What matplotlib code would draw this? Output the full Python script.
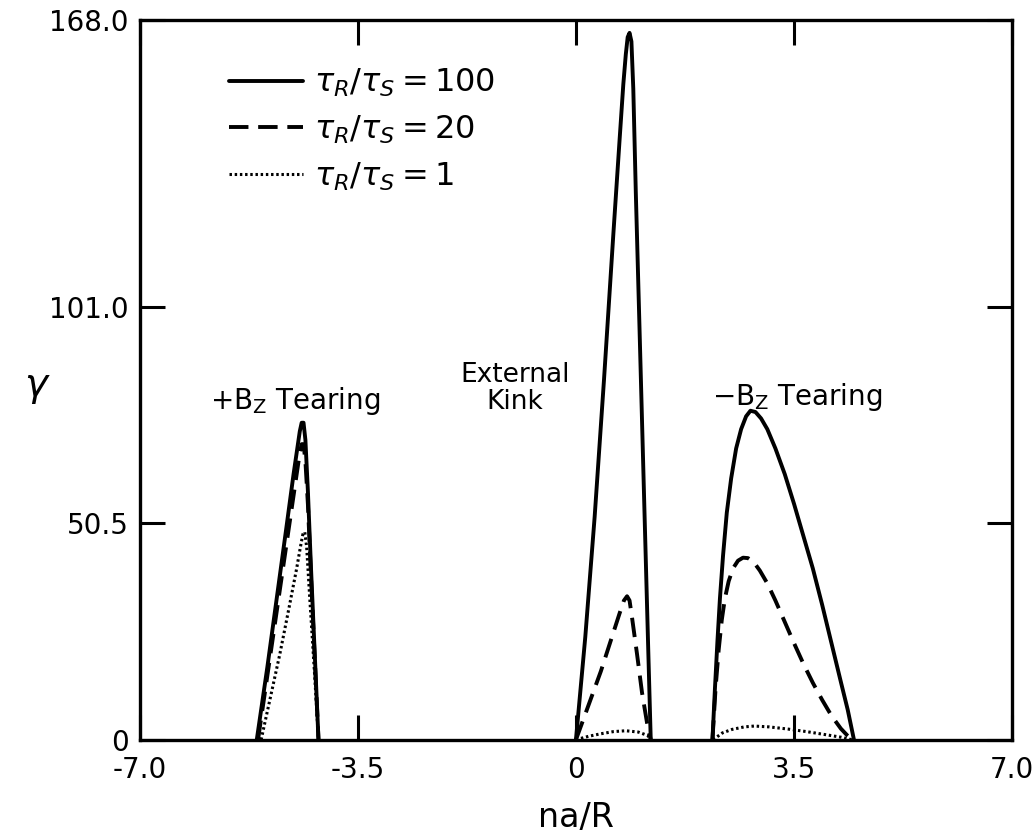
import numpy as np
import matplotlib.pyplot as plt

# +Bz tearing branch
pos_x_100 = [-5.12, -4.95, -4.8, -4.65, -4.53, -4.47, -4.43, -4.40, -4.37, -4.34, -4.30, -4.25, -4.19, -4.13]
pos_y_100 = [0, 17, 33, 49, 62, 68, 72, 74, 74, 70, 58, 40, 20, 0]
pos_x_20 = [-5.10, -4.95, -4.8, -4.65, -4.53, -4.47, -4.43, -4.40, -4.37, -4.34, -4.30, -4.25, -4.19, -4.13]
pos_y_20 = [0, 15, 30, 45, 57, 63, 67, 69, 69, 65, 55, 38, 19, 0]
pos_x_1 = [-5.05, -4.9, -4.75, -4.6, -4.48, -4.42, -4.38, -4.35, -4.32, -4.27, -4.20, -4.13]
pos_y_1 = [0, 10, 20, 31, 40, 45, 48, 48.5, 45, 33, 17, 0]

# external kink
kink_x_100 = [0.0, 0.15, 0.3, 0.45, 0.6, 0.7, 0.76, 0.8, 0.83, 0.86, 0.89, 0.92, 0.96, 1.02, 1.1, 1.16, 1.2]
kink_y_100 = [0, 24, 52, 84, 118, 140, 153, 160, 164, 165, 163, 152, 128, 96, 53, 21, 0]
kink_x_20 = [0.0, 0.2, 0.4, 0.6, 0.7, 0.77, 0.82, 0.86, 0.9, 0.98, 1.06, 1.14, 1.2]
kink_y_20 = [0, 8, 16, 25, 29.5, 32.5, 33.5, 32.5, 28.5, 20, 11, 4, 0]
kink_x_1 = [0.0, 0.2, 0.4, 0.6, 0.8, 1.0, 1.15, 1.2]
kink_y_1 = [0, 0.8, 1.4, 1.9, 2.1, 1.8, 1.0, 0]

# -Bz tearing branch
neg_x_100 = [2.19, 2.23, 2.27, 2.31, 2.36, 2.42, 2.49, 2.57, 2.65, 2.73, 2.8, 2.88, 2.97, 3.07,
             3.2, 3.35, 3.5, 3.65, 3.8, 3.95, 4.1, 4.25, 4.36, 4.46]
neg_y_100 = [0, 12, 23, 33, 43, 53, 61, 68, 72.5, 75.5, 76.8, 76.5, 75, 72.5,
             68, 62, 55, 47.5, 40, 31.5, 22.5, 13.5, 7, 0]
neg_x_20 = [2.19, 2.24, 2.29, 2.34, 2.39, 2.45, 2.52, 2.6, 2.68, 2.76, 2.85, 2.95, 3.07, 3.2,
            3.35, 3.5, 3.65, 3.8, 3.95, 4.1, 4.25, 4.36, 4.43]
neg_y_20 = [0, 12, 21, 28, 33, 37, 40, 41.8, 42.5, 42.4, 41.5, 39.5, 36.5, 32.5,
            27.5, 22.5, 17.7, 13.3, 9.3, 5.6, 2.6, 0.9, 0]
neg_x_1 = [2.2, 2.35, 2.5, 2.7, 2.86, 3.1, 3.4, 3.7, 4.0, 4.25, 4.43]
neg_y_1 = [0, 1.6, 2.4, 3.0, 3.2, 3.0, 2.5, 1.9, 1.2, 0.6, 0]

x_ticks = [-7.0, -3.5, 0, 3.5, 7.0]
x_tick_labels = ['-7.0', '-3.5', '0', '3.5', '7.0']
y_ticks = [0, 50.5, 101.0, 168.0]
y_tick_labels = ['0', '50.5', '101.0', '168.0']

plt.rcParams['font.family'] = ['DejaVu Sans']
plt.rcParams['mathtext.fontset'] = 'dejavusans'

fig = plt.figure(figsize=(10.34, 8.34), dpi=100)
ax = fig.add_axes([0.135, 0.113, 0.844, 0.863])

lw = 2.8
solid = dict(color='black', lw=lw, solid_joinstyle='round', solid_capstyle='round')
dashed = dict(color='black', lw=lw, dashes=(5, 2.5))
dotted = dict(color='black', lw=2.2, dashes=(0.8, 0.9))

ax.plot(pos_x_100, pos_y_100, **solid, label=r'$\tau_R/\tau_S = 100$')
ax.plot(pos_x_20, pos_y_20, **dashed, label=r'$\tau_R/\tau_S = 20$')
ax.plot(pos_x_1, pos_y_1, **dotted, label=r'$\tau_R/\tau_S = 1$')

ax.plot(kink_x_100, kink_y_100, **solid)
ax.plot(kink_x_20, kink_y_20, **dashed)
ax.plot(kink_x_1, kink_y_1, **dotted)

ax.plot(neg_x_100, neg_y_100, **solid)
ax.plot(neg_x_20, neg_y_20, **dashed)
ax.plot(neg_x_1, neg_y_1, **dotted)

ax.set_xlim(-7, 7)
ax.set_ylim(0, 168)
ax.set_xticks(x_ticks)
ax.set_xticklabels(x_tick_labels)
ax.set_yticks(y_ticks)
ax.set_yticklabels(y_tick_labels)
ax.tick_params(axis='both', direction='in', length=18, width=2.2,
               labelsize=20, top=True, right=True)
ax.tick_params(axis='x', pad=12)
ax.tick_params(axis='y', pad=8)

for sp in ax.spines.values():
    sp.set_linewidth(2.4)

ax.set_xlabel('na/R', fontsize=24, labelpad=12)
ax.set_ylabel(r'$\gamma$', fontsize=28, rotation=0, va='center')
ax.yaxis.set_label_coords(-0.117, 0.49)

ax.text(-4.5, 79, r'$+\mathrm{B_Z}$ Tearing', fontsize=20, ha='center', va='center')
ax.text(-0.98, 82, 'External\nKink', fontsize=19, ha='center', va='center',
        linespacing=1.05)
ax.text(3.55, 80, r'$-\mathrm{B_Z}$ Tearing', fontsize=20, ha='center', va='center')

leg = ax.legend(loc='upper left', bbox_to_anchor=(0.07, 0.975), frameon=False,
                fontsize=23, handlelength=2.3, handletextpad=0.35,
                labelspacing=0.45)

fig.savefig('out.png', dpi=100)
